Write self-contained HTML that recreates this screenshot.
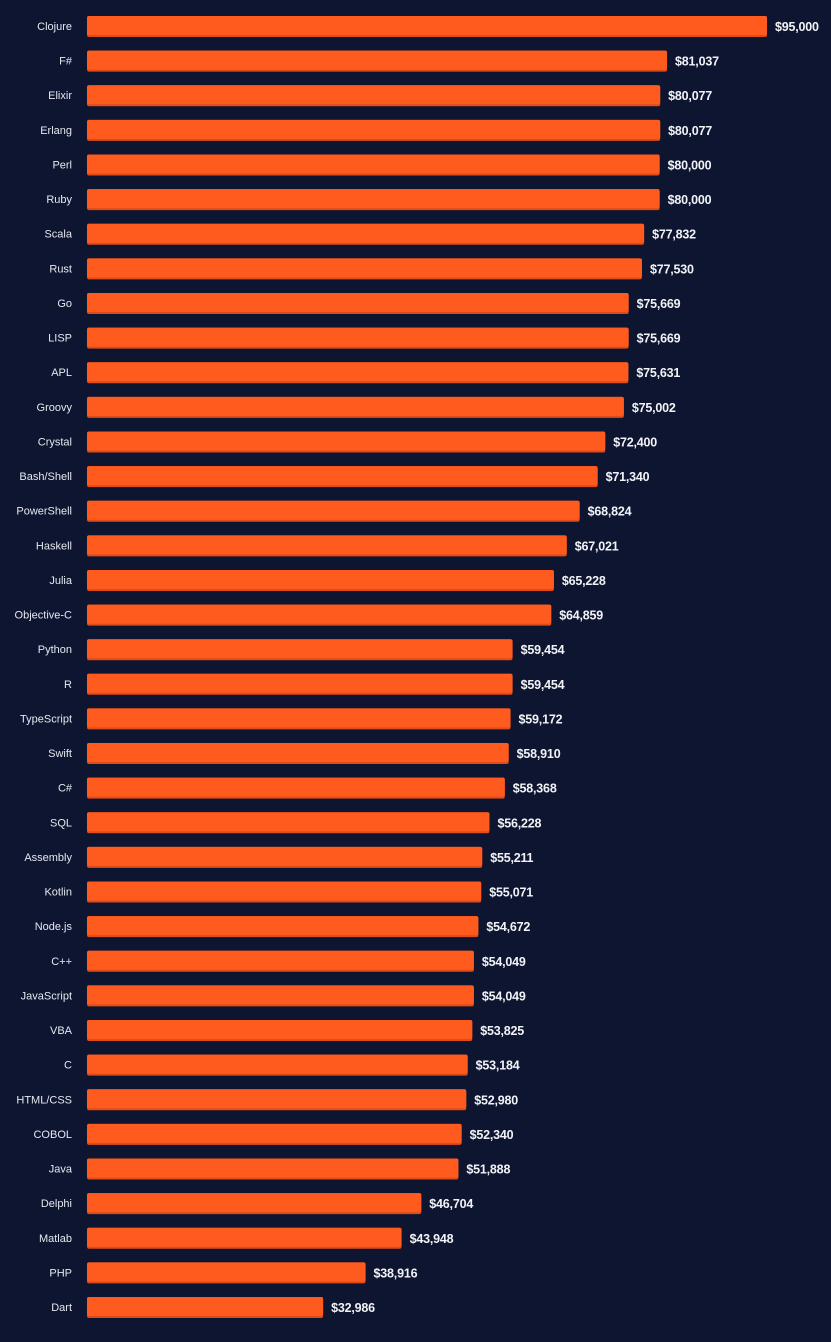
<!DOCTYPE html>
<html><head><meta charset="utf-8"><style>
html,body{margin:0;padding:0;background:#0e1530;width:831px;height:1342px;overflow:hidden}
svg{display:block}
</style></head><body>
<svg id="chart" width="831" height="1342" xmlns="http://www.w3.org/2000/svg">
<rect width="831" height="1342" fill="#0e1530"/>
</svg>
<script>
const categories = ["Clojure","F#","Elixir","Erlang","Perl","Ruby","Scala","Rust","Go","LISP","APL","Groovy","Crystal","Bash/Shell","PowerShell","Haskell","Julia","Objective-C","Python","R","TypeScript","Swift","C#","SQL","Assembly","Kotlin","Node.js","C++","JavaScript","VBA","C","HTML/CSS","COBOL","Java","Delphi","Matlab","PHP","Dart"];
const values = [95000,81037,80077,80077,80000,80000,77832,77530,75669,75669,75631,75002,72400,71340,68824,67021,65228,64859,59454,59454,59172,58910,58368,56228,55211,55071,54672,54049,54049,53825,53184,52980,52340,51888,46704,43948,38916,32986];
const xMax = 95000;
const ns = "http://www.w3.org/2000/svg";
const svg = document.getElementById('chart');
const x0 = 87, xW = 680;
function xScale(v){ return x0 + v / xMax * xW; }
function yCenter(i){ return 26 + i * (1307 - 26) / (categories.length - 1); }
function mk(tag, attrs){ const e = document.createElementNS(ns, tag); for (const k in attrs) e.setAttribute(k, attrs[k]); svg.appendChild(e); return e; }
categories.forEach((c, i) => {
  const cy = yCenter(i), w = xScale(values[i]) - x0;
  const lab = mk('text', {x: 72, y: cy + 4, 'text-anchor': 'end', fill: '#e6e8ef', 'font-size': '11', 'font-family': 'Liberation Sans, sans-serif'});
  lab.textContent = c;
  
  
  const sh = mk('rect', {x: x0, y: cy - 10, width: w, height: 21, rx: 2, fill: '#e04c18'});
  
  
  const bar = mk('rect', {x: x0, y: cy - 10, width: w, height: 19, rx: 2, fill: '#ff5b1f'});
  
  
  const val = mk('text', {x: x0 + w + 8, y: cy + 5, fill: '#f2f3f7', 'font-size': '12.5', 'font-weight': 'bold', 'letter-spacing': '-0.2', 'font-family': 'Liberation Sans, sans-serif'});
  val.textContent = '$' + values[i].toLocaleString('en-US');
  
  
});
</script>
</body></html>
